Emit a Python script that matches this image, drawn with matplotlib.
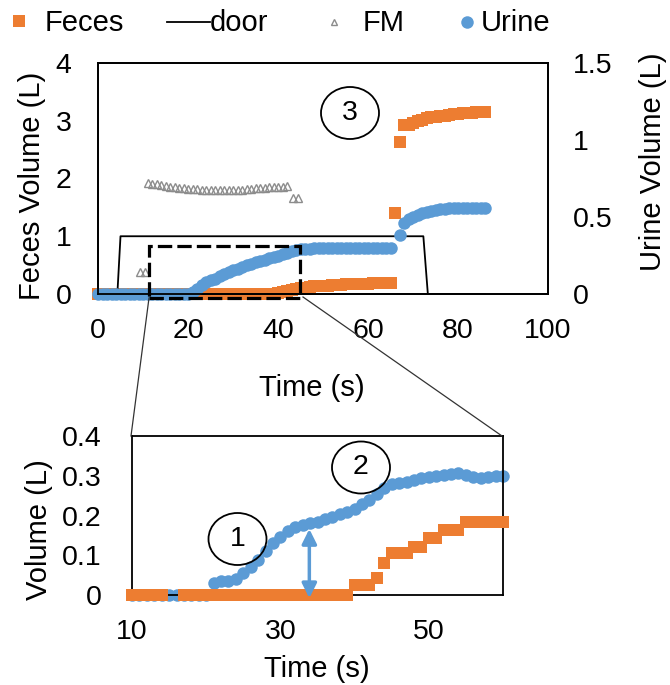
import numpy as np
import matplotlib
matplotlib.use('Agg')
from matplotlib import pyplot as plt
from matplotlib.lines import Line2D
from matplotlib.patches import Ellipse, Rectangle

plt.rcParams['font.family'] = ['Liberation Sans', 'DejaVu Sans']

# ---- data: full event (top chart) ----
top_urine_t = list(range(0, 66)) + list(range(67, 87))
top_urine_v = ([0.0] * 21 +
               [0.01, 0.035, 0.06, 0.075, 0.088, 0.10, 0.115, 0.13, 0.143, 0.155,
                0.165, 0.178, 0.188, 0.197, 0.205, 0.215, 0.223, 0.232, 0.24, 0.25,
                0.258, 0.268, 0.278, 0.286, 0.29, 0.293, 0.295, 0.297, 0.297, 0.298,
                0.298, 0.297, 0.298, 0.299, 0.298, 0.297, 0.298, 0.299, 0.298, 0.298,
                0.299, 0.298, 0.298, 0.299, 0.298] +
               [0.383, 0.46, 0.49, 0.502, 0.515, 0.525, 0.532, 0.538, 0.545, 0.55,
                0.553, 0.556, 0.557, 0.557, 0.558, 0.557, 0.557, 0.558, 0.557, 0.557])

top_feces_t = list(range(0, 87))
top_feces_v = ([0.0] * 40 +
               [0.02, 0.03, 0.05, 0.07, 0.09, 0.10, 0.11, 0.12, 0.13, 0.135,
                0.14, 0.145, 0.15, 0.155, 0.16, 0.165, 0.17, 0.172, 0.175, 0.178,
                0.18, 0.182, 0.184, 0.186, 0.188, 0.19] +
               [1.40, 2.64, 2.92, 2.93, 2.96, 2.99, 3.02, 3.04, 3.06, 3.07,
                3.08, 3.09, 3.10, 3.11, 3.12, 3.13, 3.14, 3.14, 3.15, 3.15, 3.16])

fm_t = [9.3, 10.4] + list(range(11, 43)) + [43.4, 44.5]
fm_v = ([0.375, 0.375] +
        [1.92, 1.91, 1.90, 1.89, 1.87, 1.86, 1.85, 1.84, 1.83, 1.82,
         1.81, 1.81, 1.80, 1.80, 1.80, 1.80, 1.80, 1.80, 1.80, 1.80,
         1.80, 1.80, 1.81, 1.82, 1.83, 1.83, 1.84, 1.85, 1.85, 1.86,
         1.86, 1.87] +
        [1.66, 1.66])

door_t = [0, 4.3, 5.0, 72.3, 73.3, 86]
door_v = [0, 0, 1, 1, 0, 0]

# ---- data: zoomed window (bottom chart) ----
bot_urine_t = list(range(10, 61))
bot_urine_v = ([0.0] * 11 +
               [0.03, 0.034, 0.034, 0.04, 0.055, 0.07, 0.088, 0.11, 0.13, 0.145,
                0.16, 0.17, 0.175, 0.18, 0.183, 0.19, 0.196, 0.203, 0.21, 0.217,
                0.228, 0.24, 0.255, 0.27, 0.278, 0.282, 0.285, 0.29, 0.294, 0.297,
                0.30, 0.302, 0.305, 0.307, 0.302, 0.298, 0.294, 0.297, 0.30, 0.30])

bot_feces_t = [10, 11, 12, 13, 14] + list(range(17, 61))
bot_feces_v = ([0.0] * 5 + [0.0] * 23 +
               [0.024, 0.024, 0.024, 0.043, 0.081, 0.105, 0.105, 0.105, 0.121, 0.121,
                0.143, 0.143, 0.163, 0.163, 0.163, 0.183, 0.183, 0.183, 0.183, 0.183,
                0.183])

legend_names = ['Feces', 'door', 'FM', 'Urine']

orange = '#ED7D31'
blue = '#5B9BD5'
gray = '#8C8C8C'
fs = 20.5      # tick labels / circled numbers
fs_lab = 21    # axis titles
fs_leg = 21

W, H = 670, 685
fig = plt.figure(figsize=(W / 100, H / 100), dpi=100)

def fx(px):
    return px / W

def fy(py):
    return 1 - py / H

# top chart
ax = fig.add_axes([fx(98), fy(294), fx(548) - fx(98), fy(63) - fy(294)])
ax2 = ax.twinx()
ax.plot(top_feces_t, top_feces_v, 's', color=orange, ms=8.5, mew=0, zorder=2, clip_on=False)
ax.plot(fm_t, fm_v, '^', mfc='none', mec=gray, ms=5.5, mew=1, zorder=3)
ax.plot(door_t, door_v, '-', color='black', lw=1.3, zorder=3)
ax2.plot(top_urine_t, top_urine_v, 'o', color=blue, ms=9, mew=0, zorder=2, clip_on=False)
ax.set_xlim(0, 100)
ax.set_ylim(0, 4)
ax2.set_ylim(0, 1.5)
ax.set_xticks([0, 20, 40, 60, 80, 100])
ax.set_yticks([0, 1, 2, 3, 4])
ax2.set_yticks([0, 0.5, 1, 1.5])
ax2.set_yticklabels(['0', '0.5', '1', '1.5'])
ax.tick_params(axis='both', length=0, labelsize=fs)
ax.tick_params(axis='x', pad=17)
ax.tick_params(axis='y', pad=19)
ax2.tick_params(axis='y', length=0, labelsize=fs, pad=18)
for a in (ax, ax2):
    for s in a.spines.values():
        s.set_linewidth(1.3)
        s.set_color('black')

# dashed zoom window
ax2.add_patch(Rectangle((11.3, -0.07), 33.6, 0.90, transform=ax.transData,
                        fill=False, ls=(0, (4.5, 1.6)), lw=2.3, ec='black',
                        clip_on=False, zorder=5))

# bottom chart
bx = fig.add_axes([fx(132), fy(595), fx(503) - fx(132), fy(436) - fy(595)])
bx.plot(bot_urine_t, bot_urine_v, 'o', color=blue, ms=9, mew=0, zorder=2, clip_on=False)
bx.plot(bot_feces_t, bot_feces_v, 's', color=orange, ms=8.5, mew=0, zorder=3, clip_on=False)
bx.set_xlim(10, 60)
bx.set_ylim(0, 0.4)
bx.set_xticks([10, 30, 50])
bx.set_yticks([0, 0.1, 0.2, 0.3, 0.4])
bx.set_yticklabels(['0', '0.1', '0.2', '0.3', '0.4'])
bx.tick_params(axis='both', length=0, labelsize=fs)
bx.tick_params(axis='x', pad=17)
bx.tick_params(axis='y', pad=22)
for s in bx.spines.values():
    s.set_linewidth(1.3)
    s.set_color('black')
bx.annotate('', xy=(33.9, 0.166), xytext=(33.9, -0.008),
            arrowprops=dict(arrowstyle='<|-|>', color=blue, lw=2.5,
                            mutation_scale=22, shrinkA=0, shrinkB=0), zorder=4)

# connector lines between zoom window and bottom chart
fig.add_artist(Line2D([fx(149), fx(131)], [fy(298), fy(436)], color='#333333', lw=0.9))
fig.add_artist(Line2D([fx(303), fx(502)], [fy(297), fy(436)], color='#333333', lw=0.9))

# numbered circles
for num, cx, cy in [('3', 350, 113), ('1', 237.5, 539), ('2', 361, 467.5)]:
    fig.add_artist(Ellipse((fx(cx), fy(cy)), 58 / W, 52 / H, transform=fig.transFigure,
                           fill=False, ec='black', lw=1.3))
    fig.text(fx(cx), fy(cy), num, ha='center', va='center', fontsize=fs)

# axis titles
fig.text(fx(32), fy(186), 'Feces Volume (L)', rotation=90, ha='center', va='center', fontsize=fs_lab)
fig.text(fx(653), fy(162), 'Urine Volume (L)', rotation=90, ha='center', va='center', fontsize=fs_lab)
fig.text(fx(312), fy(388), 'Time (s)', ha='center', va='center', fontsize=fs_lab)
fig.text(fx(39), fy(530), 'Volume (L)', rotation=90, ha='center', va='center', fontsize=fs_lab)
fig.text(fx(317), fy(669), 'Time (s)', ha='center', va='center', fontsize=fs_lab)

# legend (laid out by hand, Excel-style spacing)
fig.add_artist(Line2D([fx(19)], [fy(21)], ls='none', marker='s', color=orange, ms=8.5, mew=0))
fig.add_artist(Line2D([fx(167), fx(210)], [fy(22), fy(22)], color='black', lw=1.3))
fig.add_artist(Line2D([fx(334)], [fy(22)], ls='none', marker='^', mfc='none', mec=gray, ms=4.5, mew=1))
fig.add_artist(Line2D([fx(467)], [fy(22)], ls='none', marker='o', color=blue, ms=9, mew=0))
for name, tx in zip(legend_names, [45, 210, 363, 481]):
    fig.text(fx(tx), fy(31), name, ha='left', va='baseline', fontsize=fs_leg)

fig.savefig('out.png', dpi=100)
